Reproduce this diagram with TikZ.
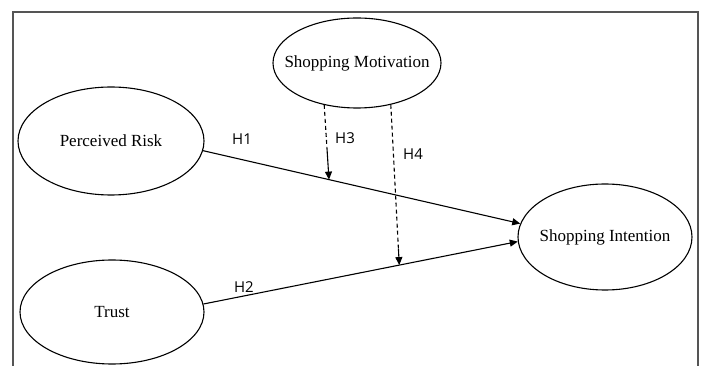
\documentclass[tikz,border=0pt]{standalone}
\usepackage{fontspec}
\setmainfont{Liberation Serif}
\newfontfamily\hfont{Open Sans}
\usetikzlibrary{arrows.meta,shapes.geometric,calc}
\definecolor{frame}{RGB}{85,85,85}

\begin{document}
\begin{tikzpicture}[x=1pt, y=-1pt,
  construct/.style={draw, ellipse, line width=1.1pt, inner ysep=0pt, inner xsep=-25pt, font=\fontsize{17}{20}\selectfont},
  arrow/.style={-{Triangle[length=8pt, width=7pt]}, line width=1.1pt},
  dashline/.style={dash pattern=on 4pt off 3pt, line width=1.1pt},
  hyp/.style={font=\hfont\fontsize{15}{17}\selectfont},
]
  \useasboundingbox (0,0) rectangle (702,366);
  \draw[frame, line width=1.6pt] (13,370) -- (13,12) -- (698,12) -- (698,370);

  \node[construct, minimum width=168pt, minimum height=90pt] (motivation) at (357,63) {Shopping Motivation};
  \node[construct, minimum width=186pt, minimum height=108pt] (risk) at (111,141) {Perceived Risk};
  \node[construct, minimum width=184pt, minimum height=104pt] (trust) at (112,312) {Trust};
  \node[construct, minimum width=174pt, minimum height=106pt] (intention) at (605,237) {Shopping Intention};

  % direct paths
  \draw[arrow] (risk.-6) -- coordinate[pos=0.397] (h3end) (intention.171);
  \draw[arrow] (trust.5) -- coordinate[pos=0.623] (h4end) (intention.183);

  % moderation paths
  \coordinate (h3mid) at ($(motivation.-128)!0.57!(h3end)$);
  \coordinate (h4mid) at ($(motivation.-51)!0.9!(h4end)$);
  \draw[dashline] (motivation.-128) -- (h3mid);
  \draw[arrow] (h3mid) -- (h3end);
  \draw[dashline] (motivation.-51) -- (h4mid);
  \draw[arrow] (h4mid) -- (h4end);

  \node[hyp] (lh1) at (242,139) {H1};
  \node[hyp] (lh2) at (244,287) {H2};
  \node[hyp] (lh3) at (345,138) {H3};
  \node[hyp] (lh4) at (413,154) {H4};
\end{tikzpicture}
\end{document}
